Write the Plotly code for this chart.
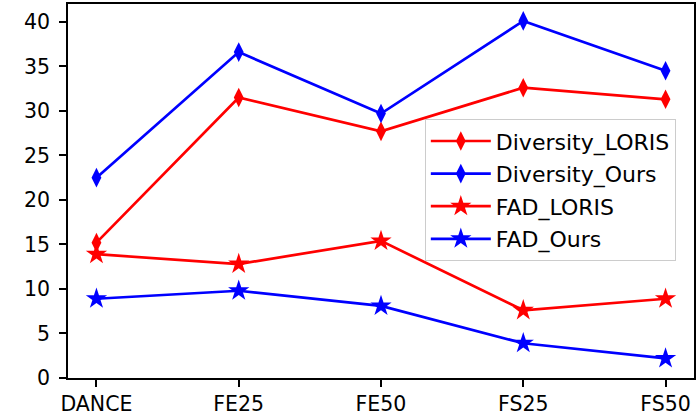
import plotly.graph_objects as go

categories = ["DANCE", "FE25", "FE50", "FS25", "FS50"]
diversity_loris = [15.2, 31.5, 27.7, 32.6, 31.3]
diversity_ours = [22.5, 36.6, 29.7, 40.1, 34.5]
fad_loris = [13.9, 12.8, 15.4, 7.6, 8.9]
fad_ours = [8.9, 9.8, 8.1, 3.9, 2.2]
y_ticks = [0, 5, 10, 15, 20, 25, 30, 35, 40]

x_idx = list(range(len(categories)))

series = [
    ("Diversity_LORIS", diversity_loris, "#ff0000", "diamond-tall", 14),
    ("Diversity_Ours", diversity_ours, "#0000ff", "diamond-tall", 14),
    ("FAD_LORIS", fad_loris, "#ff0000", "star", 16),
    ("FAD_Ours", fad_ours, "#0000ff", "star", 16),
]

fig = go.Figure()
for name, vals, col, sym, sz in series:
    fig.add_trace(go.Scatter(
        x=x_idx, y=vals, name=name, mode="lines+markers",
        line=dict(color=col, width=2.7),
        marker=dict(symbol=sym, size=sz, color=col, line=dict(width=0)),
        legendgroup=name,
    ))

fig.update_layout(
    width=697, height=417,
    margin=dict(l=68, r=1, t=4, b=38),
    paper_bgcolor="white", plot_bgcolor="white",
    font=dict(family="DejaVu Sans", size=20.5, color="black"),
    showlegend=True,
    legend=dict(
        x=0.570, y=0.692, xanchor="left", yanchor="top",
        bgcolor="rgba(255,255,255,0.8)", bordercolor="#cccccc", borderwidth=1,
        font=dict(size=22), tracegroupgap=1, itemwidth=60,
    ),
)
fig.update_xaxes(
    range=[-0.2, 4.2], tickvals=x_idx, ticktext=categories,
    showline=True, linecolor="black", linewidth=1.5, mirror=True,
    ticks="outside", ticklen=7, tickwidth=1.5, tickcolor="black",
    showgrid=False, zeroline=False,
)
fig.update_yaxes(
    range=[0, 42.0], tickvals=y_ticks,
    showline=True, linecolor="black", linewidth=1.5, mirror=True,
    ticks="outside", ticklen=7, tickwidth=1.5, tickcolor="black",
    showgrid=False, zeroline=False, ticklabelstandoff=5,
)

fig.write_html("out.html", config={"displayModeBar": False},
               post_script="document.body.style.margin='0';document.body.style.padding='0';")
